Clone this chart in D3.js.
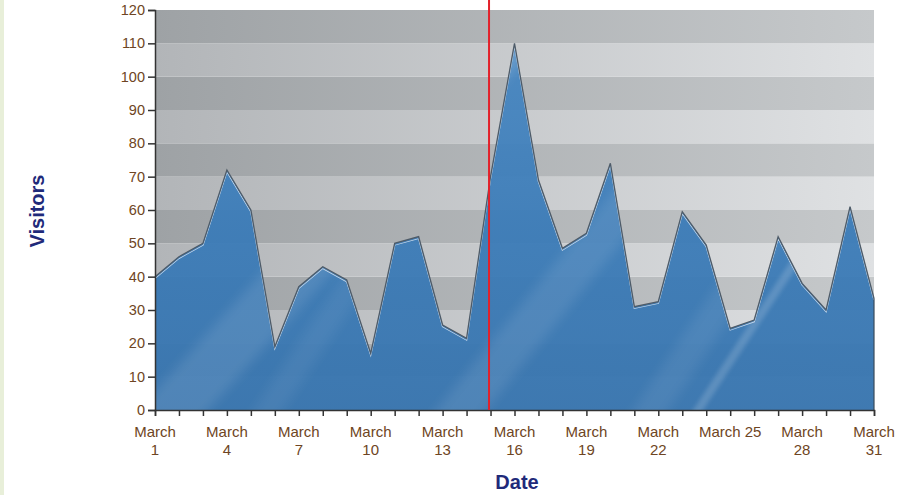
<!DOCTYPE html>
<html>
<head>
<meta charset="utf-8">
<script src="https://cdn.jsdelivr.net/npm/d3@7/dist/d3.min.js"></script>
<style>
  html, body { margin: 0; padding: 0; background: #ffffff; }
  svg { display: block; }
</style>
</head>
<body>
<svg id="chart" width="913" height="495"></svg>
<script>
// Daily visitors for March
const days = d3.range(1, 32);
const visitors = [40, 46, 50, 72, 60, 19, 37, 43, 39, 17, 50, 52, 25.5, 21.5, 70,
                  110, 69, 48.5, 53, 74, 31, 32.5, 59.5, 49.5, 24.5, 27, 52, 38, 30, 61, 33.5];
const labelDays = [1, 4, 7, 10, 13, 16, 19, 22, 25, 28, 31];
const yTicks = d3.range(0, 121, 10);
const markerDay = 15;

const svg = d3.select("#chart");
const margin = { left: 155, right: 39, top: 10, bottom: 85 };
const W = 913, H = 495;
const iw = W - margin.left - margin.right;
const ih = H - margin.top - margin.bottom;

const x = d3.scaleLinear().domain([1, 31]).range([margin.left, margin.left + iw]);
const y = d3.scaleLinear().domain([0, 120]).range([margin.top + ih, margin.top]);

// pale strip along the left edge
svg.append("rect").attr("x", 0).attr("y", 0).attr("width", 4).attr("height", H).attr("fill", "#e8efd9");

const defs = svg.append("defs");
const gDark = defs.append("linearGradient").attr("id", "bandDark").attr("x1", "0").attr("x2", "1").attr("y1", "0").attr("y2", "0");
gDark.append("stop").attr("offset", "0").attr("stop-color", "#9ea2a5");
gDark.append("stop").attr("offset", "1").attr("stop-color", "#c6c9cb");
const gLight = defs.append("linearGradient").attr("id", "bandLight").attr("x1", "0").attr("x2", "1").attr("y1", "0").attr("y2", "0");
gLight.append("stop").attr("offset", "0").attr("stop-color", "#b2b5b8");
gLight.append("stop").attr("offset", "1").attr("stop-color", "#dfe1e3");

const fillGrad = defs.append("linearGradient").attr("id", "areaFill").attr("x1", "0").attr("x2", "0").attr("y1", "0").attr("y2", "1");
fillGrad.append("stop").attr("offset", "0").attr("stop-color", "#4787c2");
fillGrad.append("stop").attr("offset", "0.5").attr("stop-color", "#3a7bb8");
fillGrad.append("stop").attr("offset", "1").attr("stop-color", "#3573ae");

defs.append("filter").attr("id", "soft").attr("x", "-20%").attr("y", "-20%").attr("width", "140%").attr("height", "140%")
  .append("feGaussianBlur").attr("stdDeviation", 6);
defs.append("filter").attr("id", "softThin").attr("x", "-20%").attr("y", "-20%").attr("width", "140%").attr("height", "140%")
  .append("feGaussianBlur").attr("stdDeviation", 2);

// background bands, one per 10 visitors
const bands = d3.range(0, 120, 10);
svg.append("g").selectAll("rect").data(bands).join("rect")
  .attr("x", margin.left)
  .attr("y", d => y(d + 10))
  .attr("width", iw)
  .attr("height", d => y(d) - y(d + 10))
  .attr("fill", d => (d / 10) % 2 === 1 ? "url(#bandDark)" : "url(#bandLight)");

const area = d3.area().x((d, i) => x(days[i])).y0(y(0)).y1(d => y(d));
const line = d3.line().x((d, i) => x(days[i])).y(d => y(d));

defs.append("clipPath").attr("id", "areaClip").append("path").attr("d", area(visitors));

svg.append("path").attr("d", area(visitors)).attr("fill", "url(#areaFill)").attr("opacity", 0.94);

// soft highlights inside the area
const shine = svg.append("g").attr("clip-path", "url(#areaClip)");
const streaks = [
  { x0: 120, x1: 500, w: 70, o: 0.10, f: "url(#soft)" },
  { x0: 420, x1: 760, w: 50, o: 0.09, f: "url(#soft)" },
  { x0: 680, x1: 955, w: 10, o: 0.16, f: "url(#softThin)" },
  { x0: 620, x1: 900, w: 35, o: 0.07, f: "url(#soft)" },
  { x0: 240, x1: 520, w: 30, o: 0.06, f: "url(#soft)" }
];
shine.selectAll("path").data(streaks).join("path")
  .attr("d", s => `M${s.x0},${y(0) + 20} L${s.x0 + s.w},${y(0) + 20} L${s.x1 + s.w},${y(120)} L${s.x1},${y(120)} Z`)
  .attr("fill", "#ffffff")
  .attr("opacity", s => s.o)
  .attr("filter", s => s.f);

// light edge just under the outline
svg.append("path").attr("d", line(visitors)).attr("transform", "translate(0,1.6)")
  .attr("fill", "none").attr("stroke", "#c9d9ea").attr("stroke-width", 1.4)
  .attr("clip-path", "url(#areaClip)");
svg.append("path").attr("d", line(visitors))
  .attr("fill", "none").attr("stroke", "#4e5b68").attr("stroke-width", 1.3).attr("stroke-linejoin", "miter");

// right edge of area
svg.append("line").attr("x1", x(31)).attr("x2", x(31)).attr("y1", y(visitors[30])).attr("y2", y(0))
  .attr("stroke", "#3a4a5a").attr("stroke-width", 1.2);

// axes
const textColor = "#6e4523";
const yAxis = d3.axisLeft(y).tickValues(yTicks).tickSize(7).tickPadding(3);
const gy = svg.append("g").attr("transform", `translate(${margin.left},0)`).call(yAxis);
gy.select(".domain").attr("stroke", "#333").attr("stroke-width", 1.5);
gy.selectAll(".tick line").attr("stroke", "#333").attr("stroke-width", 1.5);
gy.selectAll(".tick text").attr("fill", textColor).attr("font-family", "Liberation Sans, Arial, sans-serif").attr("font-size", 14.5);

const xAxis = d3.axisBottom(x).tickValues(days).tickSize(6).tickFormat("");
const gx = svg.append("g").attr("transform", `translate(0,${y(0)})`).call(xAxis);
gx.select(".domain").attr("stroke", "#333").attr("stroke-width", 1.5);
gx.selectAll(".tick line").attr("stroke", "#333").attr("stroke-width", 1.5);

const lbl = svg.append("g").attr("font-family", "Liberation Sans, Arial, sans-serif").attr("font-size", 15).attr("fill", textColor).attr("text-anchor", "middle");
labelDays.forEach(d => {
  const t = lbl.append("text").attr("x", x(d)).attr("y", 437);
  if (d === 25) {
    t.text("March 25");
  } else {
    t.append("tspan").attr("x", x(d)).text("March");
    t.append("tspan").attr("x", x(d)).attr("dy", 18).text(d);
  }
});

// marker line
svg.append("line").attr("x1", x(markerDay) - 1.5).attr("x2", x(markerDay) - 1.5).attr("y1", 0).attr("y2", y(0))
  .attr("stroke", "#e3202a").attr("stroke-width", 2);

// axis titles
const titleColor = "#1f2a7a";
svg.append("text").attr("x", 517).attr("y", 489).attr("text-anchor", "middle")
  .attr("font-family", "Liberation Sans, Arial, sans-serif").attr("font-weight", "bold").attr("font-size", 20)
  .attr("fill", titleColor).text("Date");
svg.append("text").attr("transform", "translate(44,211) rotate(-90)").attr("text-anchor", "middle")
  .attr("font-family", "Liberation Sans, Arial, sans-serif").attr("font-weight", "bold").attr("font-size", 20)
  .attr("fill", titleColor).text("Visitors");
</script>
</body>
</html>
